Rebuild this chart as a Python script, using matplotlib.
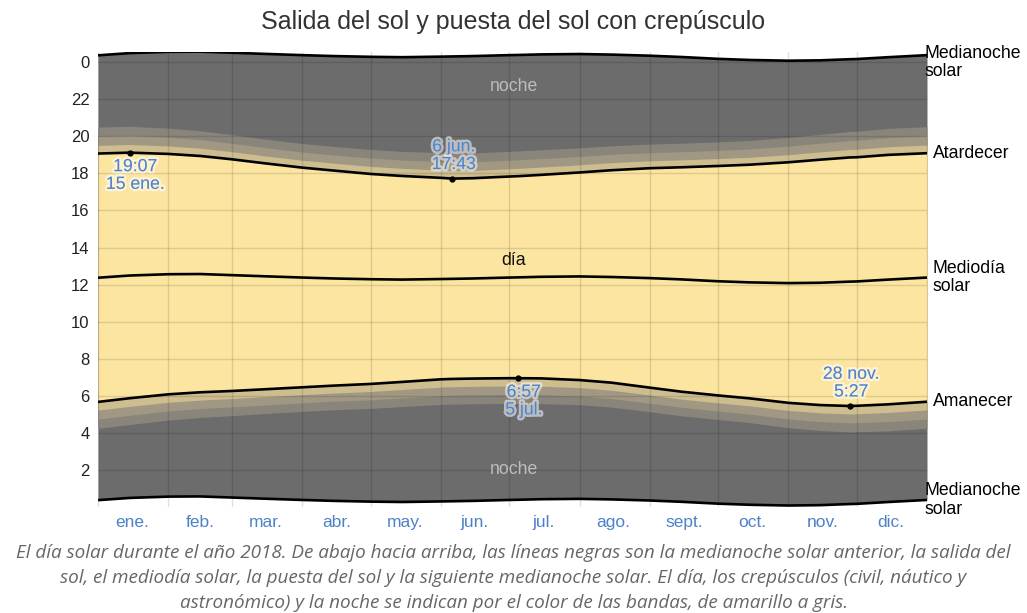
import matplotlib
matplotlib.use("Agg")
import matplotlib.pyplot as plt
import matplotlib.patheffects as pe
import numpy as np

plt.rcParams["font.family"] = ["Liberation Sans", "DejaVu Sans"]

days = [0, 14, 31, 45, 59, 73, 90, 104, 120, 134, 151, 156, 165, 181,
        185, 195, 212, 226, 243, 257, 273, 287, 304, 318, 331, 334, 348, 365]

# hours of the day
sunrise = [5.67, 5.87, 6.08, 6.19, 6.26, 6.35, 6.46, 6.55, 6.64, 6.75, 6.89, 6.91, 6.93, 6.95,
           6.95, 6.94, 6.85, 6.71, 6.44, 6.22, 6.02, 5.86, 5.62, 5.50, 5.45, 5.46, 5.54, 5.68]
sunset = [19.07, 19.12, 19.05, 18.94, 18.76, 18.55, 18.31, 18.15, 17.97, 17.86, 17.76, 17.72, 17.74, 17.83,
          17.85, 17.92, 18.05, 18.17, 18.28, 18.33, 18.40, 18.47, 18.60, 18.74, 18.86, 18.87, 19.00, 19.09]
noon = [12.37, 12.49, 12.56, 12.57, 12.51, 12.45, 12.38, 12.33, 12.29, 12.27, 12.30, 12.31, 12.33, 12.38,
        12.39, 12.42, 12.44, 12.41, 12.35, 12.28, 12.18, 12.12, 12.08, 12.10, 12.16, 12.17, 12.27, 12.38]
midnight_prev = [0.37, 0.49, 0.56, 0.57, 0.51, 0.45, 0.38, 0.33, 0.29, 0.27, 0.30, 0.31, 0.33, 0.38,
                 0.39, 0.42, 0.44, 0.41, 0.35, 0.28, 0.18, 0.12, 0.08, 0.10, 0.16, 0.17, 0.27, 0.38]
midnight_next = [24.37, 24.49, 24.56, 24.57, 24.51, 24.45, 24.38, 24.33, 24.29, 24.27, 24.30, 24.31, 24.33, 24.38,
                 24.39, 24.42, 24.44, 24.41, 24.35, 24.28, 24.18, 24.12, 24.08, 24.10, 24.16, 24.17, 24.27, 24.38]

# twilight durations (hours) for civil, nautical and astronomical bands
civil = [0.44, 0.44, 0.43, 0.42, 0.41, 0.40, 0.40, 0.40, 0.41, 0.41, 0.42, 0.42, 0.42, 0.42,
         0.42, 0.42, 0.41, 0.41, 0.40, 0.40, 0.40, 0.40, 0.41, 0.42, 0.43, 0.43, 0.44, 0.44]
nautical = [0.49, 0.48, 0.47, 0.46, 0.45, 0.45, 0.44, 0.44, 0.45, 0.45, 0.46, 0.46, 0.46, 0.46,
            0.46, 0.46, 0.45, 0.45, 0.44, 0.44, 0.44, 0.45, 0.46, 0.47, 0.48, 0.48, 0.49, 0.49]
astronomical = [0.50, 0.50, 0.49, 0.48, 0.47, 0.46, 0.46, 0.46, 0.46, 0.47, 0.48, 0.48, 0.48, 0.48,
                0.48, 0.48, 0.47, 0.46, 0.46, 0.46, 0.46, 0.46, 0.47, 0.48, 0.49, 0.49, 0.50, 0.50]

month_starts = [0, 31, 59, 90, 120, 151, 181, 212, 243, 273, 304, 334, 365]
month_mids = [15, 45, 74, 105, 135, 166, 196, 227, 258, 288, 319, 349]
month_labels = ["ene.", "feb.", "mar.", "abr.", "may.", "jun.",
                "jul.", "ago.", "sept.", "oct.", "nov.", "dic."]

y_ticks = [2, 4, 6, 8, 10, 12, 14, 16, 18, 20, 22, 24]
y_labels = ["2", "4", "6", "8", "10", "12", "14", "16", "18", "20", "22", "0"]

# extremes: (day, hour, text, above?)
extremes = [(14, 19.12, "19:07\n15 ene.", False),
            (156, 17.72, "6 jun.\n17:43", True),
            (185, 6.95, "6:57\n5 jul.", False),
            (331, 5.45, "28 nov.\n5:27", True)]

right_labels = [(24.0, "Medianoche\nsolar", -2),
                (19.09, "Atardecer", 4),
                (12.38, "Mediodía\nsolar", 4),
                (5.68, "Amanecer", 4),
                (0.38, "Medianoche\nsolar", -2)]

DAY = "#fce5a0"
CIVIL = "#cdbd8f"
NAUT = "#a09882"
ASTRO = "#8a857b"
NIGHT = "#6c6c6c"
BLUE = "#4d82c8"
FS = 12.7

d = np.array(days)
rise = np.array(sunrise)
sset = np.array(sunset)
c = np.array(civil)
n = np.array(nautical)
a = np.array(astronomical)

fig = plt.figure(figsize=(10.27, 6.13), dpi=100)
ax = fig.add_axes([98 / 1027, 1 - 507 / 613, (927 - 98) / 1027, (507 - 52) / 613])

ax.fill_between(d, midnight_prev, midnight_next, color=NIGHT, lw=0, zorder=1)
ax.fill_between(d, rise - c - n - a, sset + c + n + a, color=ASTRO, lw=0, zorder=1)
ax.fill_between(d, rise - c - n, sset + c + n, color=NAUT, lw=0, zorder=1)
ax.fill_between(d, rise - c, sset + c, color=CIVIL, lw=0, zorder=1)
ax.fill_between(d, rise, sset, color=DAY, lw=0, zorder=1)

for arr in (midnight_prev, sunrise, noon, sunset, midnight_next):
    ax.plot(d, arr, color="black", lw=1.9, zorder=4, solid_capstyle="butt")

ax.set_xlim(0, 365)
ax.set_ylim(0, 24.55)
ax.set_xticks(month_starts)
ax.set_xticklabels([])
ax.set_xticks(month_mids, minor=True)
ax.set_xticklabels(month_labels, minor=True, color=BLUE, fontsize=12.5)
ax.set_yticks(y_ticks)
ax.set_yticklabels(y_labels, fontsize=12, color="#222222")
ax.tick_params(axis="both", which="both", length=0)
ax.tick_params(axis="x", which="minor", pad=6)
ax.tick_params(axis="y", pad=6)
ax.grid(True, which="major", color="black", alpha=0.12, lw=1)
ax.set_axisbelow(False)
for s in ax.spines.values():
    s.set_visible(False)

halo = [pe.withStroke(linewidth=3.5, foreground=(1, 1, 1, 0.55))]
for day, hour, txt, above in extremes:
    ax.plot([day], [hour], "o", color="black", ms=3.5, zorder=5)
    if above:
        ax.annotate(txt, (day, hour), xytext=(1, 4), textcoords="offset points",
                    ha="center", va="bottom", color=BLUE, fontsize=FS,
                    linespacing=1.05, path_effects=halo, zorder=6)
    else:
        ax.annotate(txt, (day, hour), xytext=(4, -4), textcoords="offset points",
                    ha="center", va="top", color=BLUE, fontsize=FS,
                    linespacing=1.05, path_effects=halo, zorder=6)

ax.text(183, 22.7, "noche", color="#bdbdbd", fontsize=FS, ha="center", va="center", zorder=6)
ax.text(183, 2.05, "noche", color="#bdbdbd", fontsize=FS, ha="center", va="center", zorder=6)
ax.text(183, 13.3, "día", color="#111111", fontsize=FS, ha="center", va="center", zorder=6)

for hour, txt, dx in right_labels:
    ax.annotate(txt, (1.0, hour), xycoords=("axes fraction", "data"),
                xytext=(dx, 0), textcoords="offset points",
                ha="left", va="center", fontsize=FS, color="black",
                linespacing=1.1, annotation_clip=False)

fig.text(0.5, 1 - 22 / 613, "Salida del sol y puesta del sol con crepúsculo",
         ha="center", va="center", fontsize=18, color="#333333")

caption = ["El día solar durante el año 2018. De abajo hacia arriba, las líneas negras son la medianoche solar anterior, la salida del",
           "sol, el mediodía solar, la puesta del sol y la siguiente medianoche solar. El día, los crepúsculos (civil, náutico y",
           "astronómico) y la noche se indican por el color de las bandas, de amarillo a gris."]
for i, line in enumerate(caption):
    fig.text(0.5, 1 - (553 + 25 * i) / 613, line, ha="center", va="center",
             fontsize=13.6, style="italic", color="#666666", family=["Open Sans", "DejaVu Sans"])

fig.savefig("out.png", dpi=100)
